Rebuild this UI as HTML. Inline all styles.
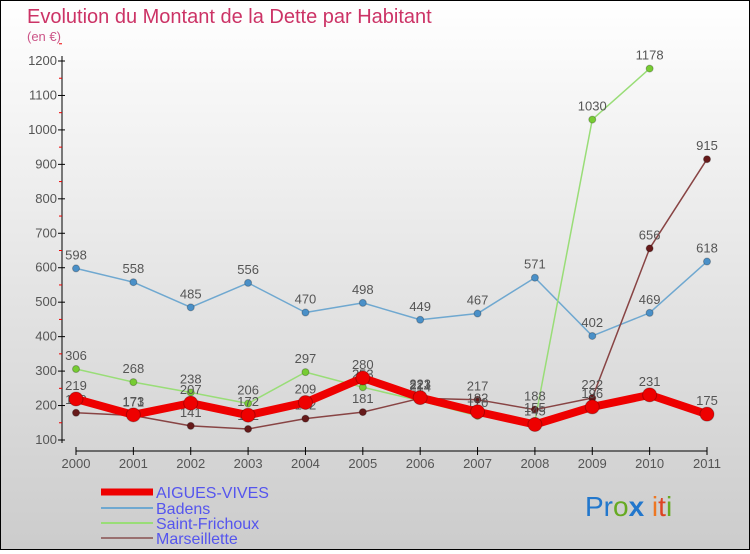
<!DOCTYPE html>
<html><head><meta charset="utf-8"><style>
html,body{margin:0;padding:0}
body{width:750px;height:550px;overflow:hidden;font-family:"Liberation Sans",sans-serif}
#wrap{position:relative;width:748px;height:548px;border:1px solid #000;background:linear-gradient(#ffffff,#cccccc)}
svg text{font-family:"Liberation Sans",sans-serif}
</style></head><body>
<div id="wrap">
<svg id="chart" width="748" height="548">
<text x="26" y="22" font-size="20" fill="#cc3366">Evolution du Montant de la Dette par Habitant</text>
<text x="26" y="40" font-size="13" fill="#cc5588">(en €)</text>
<g id="axes"></g>
<g id="series"></g>
<g id="legend">
<line x1="100" y1="491" x2="152" y2="491" stroke="#ee0000" stroke-width="7"/>
<text x="155" y="497" font-size="16" fill="#5555ee">AIGUES-VIVES</text>
<line x1="100" y1="507" x2="152" y2="507" stroke="#6fa8d0" stroke-width="2"/>
<text x="155" y="513" font-size="16" fill="#5555ee">Badens</text>
<line x1="100" y1="522" x2="152" y2="522" stroke="#99dd77" stroke-width="2"/>
<text x="155" y="528" font-size="16" fill="#5555ee">Saint-Frichoux</text>
<line x1="100" y1="537" x2="152" y2="537" stroke="#997070" stroke-width="2"/>
<text x="155" y="543" font-size="16" fill="#5555ee">Marseillette</text>
</g>
<text x="584" y="515" font-size="28"><tspan fill="#2277cc">Pr</tspan><tspan fill="#66aa22">o</tspan><tspan fill="#2277cc" font-weight="bold">x</tspan><tspan fill="#ee7722"> i</tspan><tspan fill="#dd4422">t</tspan><tspan fill="#66aa22">i</tspan></text>
</svg>
</div>
<script>
const years = [2000,2001,2002,2003,2004,2005,2006,2007,2008,2009,2010,2011];
const yTicks = [100,200,300,400,500,600,700,800,900,1000,1100,1200];
const aiguesVives = [219,173,207,172,209,280,223,182,145,196,231,175];
const badens = [598,558,485,556,470,498,449,467,571,402,469,618];
const saintFrichoux = [306,268,238,206,297,253,214,170,155,1030,1178,null];
const marseillette = [179,171,141,132,162,181,221,217,188,222,656,915];

const NS='http://www.w3.org/2000/svg';
const xS = i => 75 + i*(706-75)/11;
const yS = v => 439 - (v-100)*(439-60)/1100;
function mk(tag, attrs, parent){const e=document.createElementNS(NS,tag);for(const k in attrs)e.setAttribute(k,attrs[k]);parent.appendChild(e);return e;}
const axes=document.getElementById('axes');
const ya=mk('line',{x1:61,y1:55,x2:61,y2:442,stroke:'#000','stroke-width':1},axes);


yTicks.forEach(v=>{
  mk('line',{x1:57,y1:yS(v),x2:64,y2:yS(v),stroke:'#000'},axes);
  mk('line',{x1:58,y1:yS(v+50),x2:61,y2:yS(v+50),stroke:'#e00'},axes);
  const t=mk('text',{x:56,y:yS(v)+4,'font-size':13,fill:'#555','text-anchor':'end'},axes);
  t.textContent=v;
  
  
});
const xa=mk('line',{x1:75,y1:450,x2:706,y2:450,stroke:'#000'},axes);


years.forEach((y,i)=>{
  mk('line',{x1:xS(i),y1:446,x2:xS(i),y2:454,stroke:'#000'},axes);
  const t=mk('text',{x:xS(i),y:467,'font-size':13,fill:'#555','text-anchor':'middle'},axes);
  t.textContent=y;
  
  
});
const sg=document.getElementById('series');
function draw(vals,name,color,w,r,pc){
  const g=mk('g',{},sg);
  
  
  let d='';vals.forEach((v,i)=>{if(v==null)return;d+=(d?'L':'M')+xS(i)+' '+yS(v);});
  mk('path',{d:d,fill:'none',stroke:color,'stroke-width':w,'stroke-linejoin':'round'},g);
  vals.forEach((v,i)=>{if(v==null)return;
    const c=mk('circle',{cx:xS(i),cy:yS(v),r:r,fill:pc,stroke:'rgba(0,0,0,0.25)','stroke-width':1},g);
    
    
    const t=mk('text',{x:xS(i),y:yS(v)-9,'font-size':13,fill:'#555','text-anchor':'middle'},g);
    t.textContent=v;
    
    
  });
}
draw(badens,'badens','#6fa8d0',1.5,3.5,'#4a90c8');
draw(saintFrichoux,'saint-frichoux','#99dd77',1.5,3.5,'#77cc33');
draw(marseillette,'marseillette','#884444',1.5,3.5,'#661a1a');
draw(aiguesVives,'aigues-vives','#ee0000',8,7,'#ee0000');
</script>
</body></html>
